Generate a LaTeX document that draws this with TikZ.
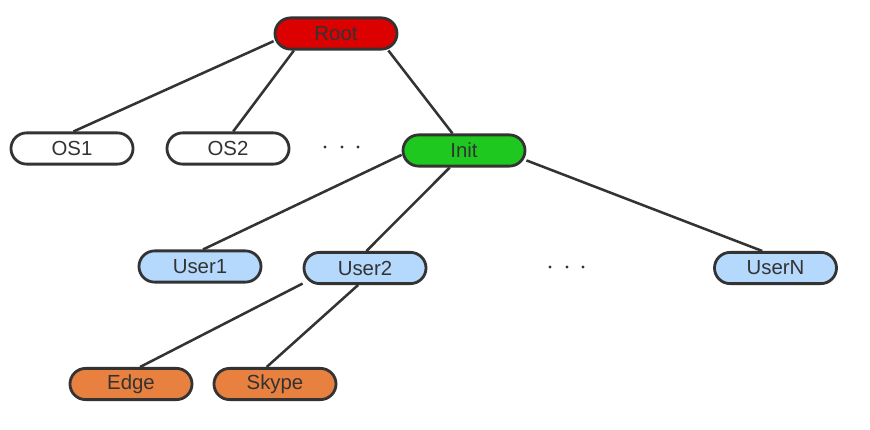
\documentclass[tikz,border=0pt]{standalone}
\usepackage{fontspec}
\setmainfont{Liberation Sans}
\usepackage{tikz}
\definecolor{ink}{HTML}{333333}
\definecolor{rootred}{HTML}{DD0000}
\definecolor{initgreen}{HTML}{1EC81E}
\definecolor{userblue}{HTML}{B4D9FC}
\definecolor{apporange}{HTML}{E88040}

\begin{document}
\begin{tikzpicture}[x=0.025cm, y=-0.025cm,
    pill/.style={draw=ink, line width=2pt, rounded corners=0.39cm,
      minimum width=3.05cm, minimum height=0.78cm, inner sep=0pt,
      text=ink, font=\fontsize{14.5}{16}\selectfont},
    edge/.style={draw=ink, line width=1.8pt},
    dot/.style={fill=ink, circle, inner sep=0pt, minimum size=2.4pt}]
    \useasboundingbox (0,0) rectangle (870,429);
    % tree nodes
    \node (root) [pill, fill=rootred] at (336,33.5) {Root};
    \node (os1) [pill, fill=white] at (72,148.5) {OS1};
    \node (os2) [pill, fill=white] at (228,148.5) {OS2};
    \node (init) [pill, fill=initgreen] at (464,150.5) {Init};
    \node (user1) [pill, fill=userblue] at (200,266.5) {User1};
    \node (user2) [pill, fill=userblue] at (365,268) {User2};
    \node (userN) [pill, fill=userblue] at (775.5,268) {UserN};
    \node (edge) [pill, fill=apporange] at (131,384) {Edge};
    \node (skype) [pill, fill=apporange] at (275,384) {Skype};
    % dots
    \node (d1) [dot] at (325,147) {};
    \node (d2) [dot] at (342,147) {};
    \node (d3) [dot] at (358,147) {};
    \node (d4) [dot] at (550,267) {};
    \node (d5) [dot] at (567,267) {};
    \node (d6) [dot] at (583,267) {};
    % connectors
    \draw [edge] (root.187) -- (os1.85);
    \draw [edge] (root.202) -- (os2.73);
    \draw [edge] (root.342) -- (init.124);
    \draw [edge] (init.184) -- (user1.80);
    \draw [edge] (init.230) -- (user2.85);
    \draw [edge] (init.351) -- (userN.128);
    \draw [edge] (user2.194) -- (edge.62);
    \draw [edge] (user2.248) -- (skype.116);
\end{tikzpicture}
\end{document}
